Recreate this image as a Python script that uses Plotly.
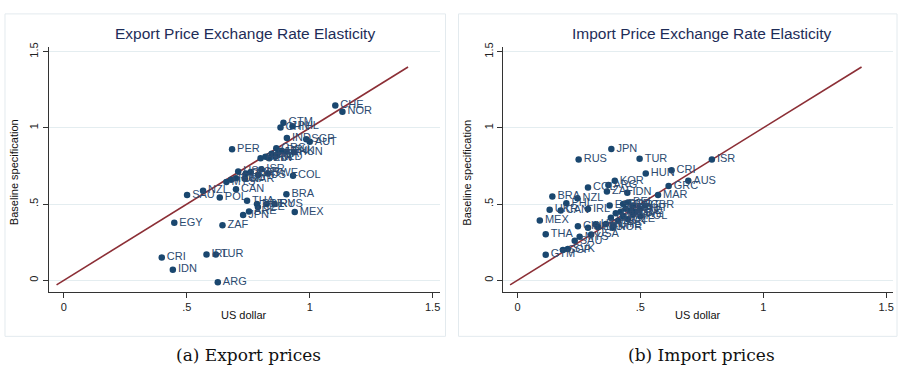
import plotly.graph_objects as go

# ---- Export price panel data ----
exp_labels = ["CHE","NOR","GTM","CHN","PHL","IND","SGP","AUT","PER","GRC","DEU","HUN","DNK","ITA","ESP",
              "NLD","FRA","BEL","FIN","ISR","SWE","COL","USA","GBR","KOR","AUS","MAR","ROU","MYS","TUN",
              "CAN","NZL","SAU","POL","BRA","THA","PRT","CZE","URY","RUS","MEX","JPN","ARE","EGY","ZAF",
              "CRI","IDN","IRL","TUR","ARG"]
exp_usd = [1.104,1.133,0.893,0.881,0.930,0.907,0.986,1.000,0.684,0.864,0.885,0.935,0.905,0.870,0.845,
           0.860,0.820,0.800,0.835,0.803,0.830,0.932,0.709,0.740,0.760,0.790,0.736,0.700,0.661,0.680,
           0.700,0.566,0.501,0.634,0.905,0.745,0.785,0.789,0.825,0.857,0.939,0.729,0.753,0.449,0.645,
           0.398,0.443,0.580,0.618,0.626]
exp_base = [1.147,1.106,1.034,1.002,1.010,0.933,0.926,0.909,0.859,0.866,0.850,0.840,0.845,0.830,0.830,
            0.810,0.810,0.800,0.800,0.729,0.700,0.686,0.714,0.700,0.710,0.690,0.666,0.670,0.645,0.660,
            0.597,0.588,0.560,0.543,0.565,0.521,0.500,0.480,0.500,0.500,0.448,0.428,0.452,0.377,0.361,
            0.149,0.069,0.169,0.169,-0.013]

# ---- Import price panel data ----
imp_labels = ["JPN","RUS","TUR","ISR","HUN","CRI","AUS","GRC","MAR","KOR","COL","ARG","ZAF","IDN","BRA",
              "NZL","PHL","UKR","CAN","IRL","MEX","THA","GTM","SGP","SVK","SAU","USA","NOR","CHL","CHN",
              "HRV","LTU","MYS","ESP","PER","BEL","PRT","FRA","DEU","ITA","NLD","AUT","DNK","FIN","SWE",
              "GBR","CZE","POL","SVN","IND","EGY","CHE"]
imp_usd = [0.382,0.249,0.497,0.791,0.522,0.627,0.695,0.615,0.572,0.396,0.287,0.370,0.364,0.447,0.142,
           0.244,0.199,0.131,0.176,0.287,0.091,0.115,0.115,0.185,0.205,0.233,0.300,0.387,0.246,0.287,
           0.318,0.328,0.253,0.375,0.430,0.450,0.470,0.440,0.460,0.420,0.480,0.500,0.400,0.430,0.470,
           0.520,0.450,0.500,0.410,0.380,0.360,0.390]
imp_base = [0.862,0.793,0.797,0.793,0.700,0.722,0.653,0.619,0.560,0.653,0.608,0.625,0.582,0.575,0.549,
            0.539,0.506,0.463,0.457,0.468,0.392,0.302,0.168,0.198,0.205,0.259,0.300,0.345,0.355,0.345,
            0.367,0.350,0.285,0.490,0.500,0.510,0.490,0.470,0.460,0.450,0.450,0.470,0.440,0.420,0.430,
            0.490,0.400,0.420,0.390,0.410,0.370,0.360]

# 45-degree reference line
line_x = [-0.03, 1.4]
line_y = [-0.03, 1.4]

tick_vals = [0, 0.5, 1, 1.5]
tick_text = ["0", ".5", "1", "1.5"]

panel_titles = ["Export Price Exchange Rate Elasticity", "Import Price Exchange Rate Elasticity"]
captions = ["(a) Export prices", "(b) Import prices"]

NAVY = "#1a476f"
TEXTC = "#2c4a70"
MAROON = "#8c2f36"
GRID = "#e4edf0"

fig = go.Figure()

for i, (xs, ys, labs) in enumerate([(exp_usd, exp_base, exp_labels), (imp_usd, imp_base, imp_labels)]):
    xa = "x" if i == 0 else "x2"
    ya = "y" if i == 0 else "y2"
    fig.add_trace(go.Scatter(x=line_x, y=line_y, mode="lines", line=dict(color=MAROON, width=1.6),
                             xaxis=xa, yaxis=ya, showlegend=False, hoverinfo="skip"))
    fig.add_trace(go.Scatter(x=xs, y=ys, mode="markers+text", text=labs, textposition="middle right",
                             marker=dict(color=NAVY, size=6.5),
                             textfont=dict(family="Liberation Sans, Arial, sans-serif", size=11, color=TEXTC),
                             xaxis=xa, yaxis=ya, showlegend=False))

axis_common = dict(showline=True, linecolor="#333333", linewidth=1.2, ticks="outside", ticklen=5,
                   tickcolor="#333333", tickvals=tick_vals, ticktext=tick_text,
                   tickfont=dict(family="Liberation Sans, Arial, sans-serif", size=11, color="#222222"),
                   zeroline=False, mirror=False)

fig.update_layout(
    width=902, height=367, margin=dict(l=0, r=0, t=0, b=0),
    paper_bgcolor="white", plot_bgcolor="white",
    xaxis=dict(domain=[49/902, 440/902], range=[-0.061, 1.528], showgrid=False, anchor="y", **axis_common),
    yaxis=dict(domain=[1-291/367, 1-43/367], range=[-0.076, 1.534], showgrid=True, gridcolor=GRID,
               tickangle=-90, anchor="x", **axis_common),
    xaxis2=dict(domain=[504/902, 894/902], range=[-0.057, 1.528], showgrid=False, anchor="y2", **axis_common),
    yaxis2=dict(domain=[1-291/367, 1-43/367], range=[-0.076, 1.534], showgrid=True, gridcolor=GRID,
                tickangle=-90, anchor="x2", **axis_common),
)

ann = []
shapes = []
box_x = [(5, 446), (459, 898)]
title_x = [245, 703]
xt_x = [244, 699]
yt_x = [14, 468]
cap_x = [249, 702]
for i in range(2):
    ann.append(dict(text=panel_titles[i], x=title_x[i]/902, y=1-30/367, xref="paper", yref="paper",
                    showarrow=False, xanchor="center", yanchor="middle",
                    font=dict(family="Liberation Sans, Arial, sans-serif", size=15.5, color="#1e2d58")))
    ann.append(dict(text="US dollar", x=xt_x[i]/902, y=1-314/367, xref="paper", yref="paper",
                    showarrow=False, xanchor="center", yanchor="middle",
                    font=dict(family="Liberation Sans, Arial, sans-serif", size=11, color="#111111")))
    ann.append(dict(text="Baseline specification", x=yt_x[i]/902, y=1-170/367, xref="paper", yref="paper",
                    showarrow=False, xanchor="center", yanchor="middle", textangle=-90,
                    font=dict(family="Liberation Sans, Arial, sans-serif", size=11, color="#111111")))
    ann.append(dict(text=captions[i], x=cap_x[i]/902, y=1-355/367, xref="paper", yref="paper",
                    showarrow=False, xanchor="center", yanchor="middle",
                    font=dict(family="DejaVu Serif, Liberation Serif, serif", size=17, color="#111111")))
    shapes.append(dict(type="rect", xref="paper", yref="paper",
                       x0=box_x[i][0]/902, x1=box_x[i][1]/902, y0=1-336/367, y1=1-10/367,
                       line=dict(color="#e3eaee", width=1), fillcolor="rgba(0,0,0,0)", layer="below"))

fig.update_layout(annotations=ann, shapes=shapes)
fig.write_html("out.html")
